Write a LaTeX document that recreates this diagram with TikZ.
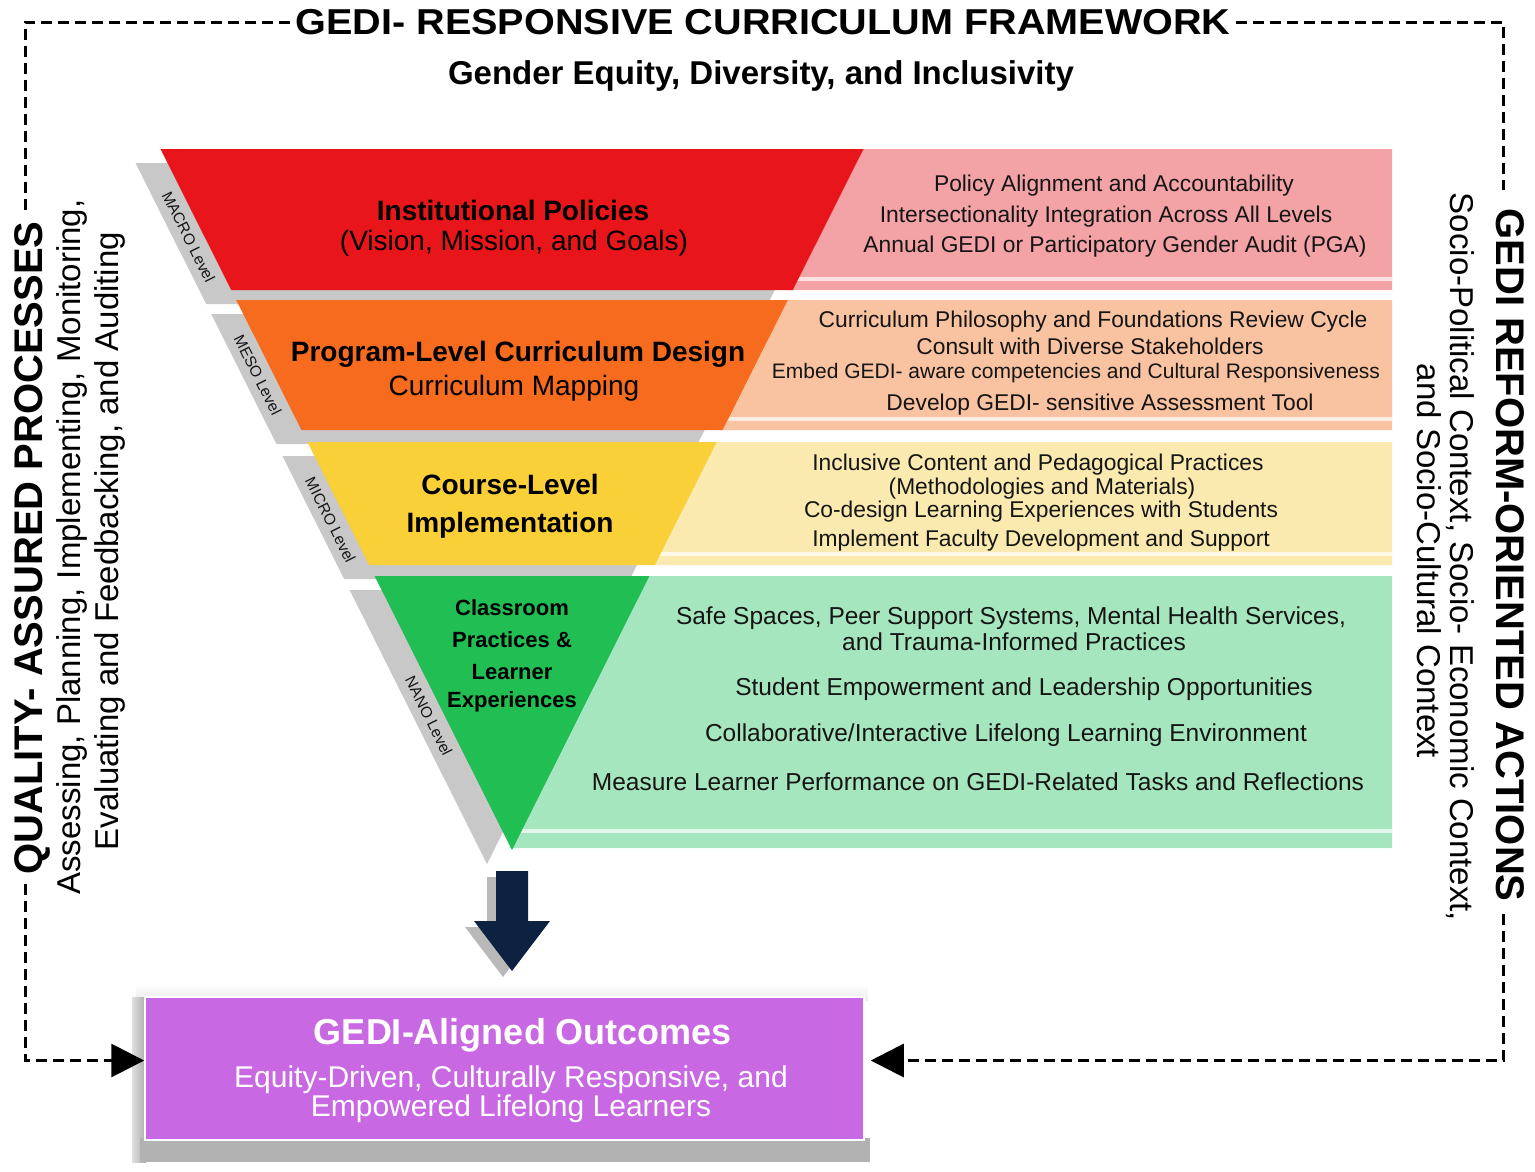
\documentclass[tikz,border=0pt]{standalone}
\usepackage{fontspec}
\setmainfont{Liberation Sans}
\usetikzlibrary{arrows.meta}
\newcommand{\fsz}[1]{\fontsize{#1}{#1}\selectfont}
\definecolor{cRed}{HTML}{E8151B}
\definecolor{cOrange}{HTML}{F76B1E}
\definecolor{cYellow}{HTML}{F9D038}
\definecolor{cGreen}{HTML}{21BF53}
\definecolor{cPink}{HTML}{F3A2A5}
\definecolor{cPeach}{HTML}{F9C2A0}
\definecolor{cLYellow}{HTML}{FBEAAF}
\definecolor{cLGreen}{HTML}{A6E6BE}
\definecolor{cPurple}{HTML}{C968E3}
\definecolor{cNavy}{HTML}{0C2240}
\definecolor{cShadow}{HTML}{C8C8C8}
\definecolor{cText}{HTML}{151515}
\begin{document}
\begin{tikzpicture}[x=1pt,y=-1pt,
  dashline/.style={line width=3pt, dash pattern=on 11pt off 6pt},
  bigtip/.style={-{Triangle[length=33pt,width=33pt]}},
  lvl/.style={font=\fsz{15.5}, text=cText, rotate=-63.4, inner sep=0pt},
  ftxt/.style={font=\fsz{28}, anchor=base, inner sep=0pt, text=black},
  fbold/.style={ftxt, font=\fsz{28}\bfseries},
  nbold/.style={ftxt, font=\fsz{22}\bfseries},
  rtxt/.style={font=\fsz{22.8}, anchor=base, inner sep=0pt, text=cText},
  gtxt/.style={font=\fsz{24.5}, anchor=base, inner sep=0pt, text=cText},
  stripe/.style={white, opacity=0.7},
  vleft/.style={rotate=90, anchor=base, inner sep=0pt, text=black},
  vright/.style={rotate=-90, anchor=base, inner sep=0pt, text=black},
  otxt/.style={anchor=base, inner sep=0pt, text=white}
]
\useasboundingbox (0,0) rectangle (1535,1171);

% ---------- title ----------
\node[inner sep=5pt] (t) at (763,22) {\scalebox{1.1}[1]{\fsz{36}\bfseries GEDI- RESPONSIVE CURRICULUM FRAMEWORK}};
\node[anchor=base, inner sep=0pt] (sub) at (761,84) {\fsz{33}\bfseries Gender Equity, Diversity, and Inclusivity};

% ---------- funnel shadows ----------
\fill[cShadow] (135.5,163) -- (838.5,163) -- (767.8,304) -- (206.2,304) -- cycle;
\fill[cShadow] (211.2,314) -- (762.8,314) -- (697.6,444) -- (276.4,444) -- cycle;
\fill[cShadow] (282.4,456) -- (691.6,456) -- (629.9,579) -- (344.1,579) -- cycle;
\fill[cShadow] (349.6,590) -- (624.4,590) -- (487,864) -- cycle;

% ---------- light boxes ----------
\fill[cPink] (859.5,149) -- (1392,149) -- (1392,290) -- (788.8,290) -- cycle;
\fill[cPeach] (783.8,300) -- (1392,300) -- (1392,430) -- (718.6,430) -- cycle;
\fill[cLYellow] (712.6,442) -- (1392,442) -- (1392,565) -- (650.9,565) -- cycle;
\fill[cLGreen] (645.4,576) -- (1392,576) -- (1392,848) -- (509,848) -- cycle;
\fill[stripe] (795,277) rectangle (1392,281);
\fill[stripe] (725,417) rectangle (1392,421);
\fill[stripe] (657,552) rectangle (1392,556);
\fill[stripe] (519,829) rectangle (1392,833);

% ---------- funnel bands ----------
\fill[cRed] (160.5,149) -- (863.5,149) -- (792.8,290) -- (231.2,290) -- cycle;
\fill[cOrange] (236.2,300) -- (787.8,300) -- (722.6,430) -- (301.4,430) -- cycle;
\fill[cYellow] (307.4,442) -- (716.6,442) -- (654.9,565) -- (369.1,565) -- cycle;
\fill[cGreen] (374.6,576) -- (649.4,576) -- (512,850) -- cycle;

% ---------- level labels ----------
\node[lvl] (macro) at (188.6,237) {MACRO Level};
\node[lvl] (meso) at (257.8,375) {MESO Level};
\node[lvl] (micro) at (330.5,520) {MICRO Level};
\node[lvl] (nano) at (428.8,716) {NANO Level};

% ---------- funnel texts ----------
\node[fbold] (f1a) at (513,220) {Institutional Policies};
\node[ftxt] (f1b) at (514,250) {(Vision, Mission, and Goals)};
\node[fbold] (f2a) at (518,361) {Program-Level Curriculum Design};
\node[ftxt] (f2b) at (514,395) {Curriculum Mapping};
\node[fbold] (f3a) at (510,494) {Course-Level};
\node[fbold] (f3b) at (510,532) {Implementation};
\node[nbold] (f4a) at (512,615) {Classroom};
\node[nbold] (f4b) at (512,647) {Practices \&};
\node[nbold] (f4c) at (512,679) {Learner};
\node[nbold] (f4d) at (512,707) {Experiences};

% ---------- right box texts ----------
\node[rtxt] (p1) at (1114,191) {Policy Alignment and Accountability};
\node[rtxt] (p2) at (1106,222) {Intersectionality Integration Across All Levels};
\node[rtxt] (p3) at (1115,252) {Annual GEDI or Participatory Gender Audit (PGA)};
\node[rtxt] (o1) at (1093,327) {Curriculum Philosophy and Foundations Review Cycle};
\node[rtxt] (o2) at (1090,354) {Consult with Diverse Stakeholders};
\node[rtxt, font=\fsz{21}] (o3) at (1076,378.5) {Embed GEDI- aware competencies and Cultural Responsiveness};
\node[rtxt] (o4) at (1100,410) {Develop GEDI- sensitive Assessment Tool};
\node[rtxt] (y1) at (1038,470) {Inclusive Content and Pedagogical Practices};
\node[rtxt] (y2) at (1042,494) {(Methodologies and Materials)};
\node[rtxt] (y3) at (1041,517) {Co-design Learning Experiences with Students};
\node[rtxt] (y4) at (1041,546) {Implement Faculty Development and Support};
\node[gtxt] (g1) at (1011,624.5) {Safe Spaces, Peer Support Systems, Mental Health Services,};
\node[gtxt] (g2) at (1014,650.5) {and Trauma-Informed Practices};
\node[gtxt] (g3) at (1024,695.5) {Student Empowerment and Leadership Opportunities};
\node[gtxt] (g4) at (1006,741.5) {Collaborative/Interactive Lifelong Learning Environment};
\node[gtxt] (g5) at (978,790.5) {Measure Learner Performance on GEDI-Related Tasks and Reflections};

% ---------- big down arrow ----------
\fill[gray!55] (487,877) -- (519,877) -- (519,927) -- (541,927) -- (503,977) -- (465,927) -- (487,927) -- cycle;
\fill[cNavy] (496,871) -- (528,871) -- (528,921) -- (550,921) -- (512,971) -- (474,921) -- (496,921) -- cycle;

% ---------- outcome box ----------
\shade[top color=white, bottom color=gray!15] (136,984) rectangle (868,1000);
\shade[left color=gray!25, right color=gray!65] (132,997) rectangle (146,1162);
\fill[gray!60] (140,1138) rectangle (870,1162);
\node[draw=white, line width=1.5pt, fill=cPurple, minimum width=719pt, minimum height=143pt, inner sep=0pt] (out) at (504.5,1068.5) {};
\node[otxt, font=\fsz{36}\bfseries] (out1) at (523,1044) {GEDI-Aligned Outcomes};
\node[otxt, font=\fsz{30}] (out2) at (511,1087) {Equity-Driven, Culturally Responsive, and};
\node[otxt, font=\fsz{30}] (out3) at (511,1116) {Empowered Lifelong Learners};

% ---------- side texts ----------
\node[vleft, font=\fsz{40}\bfseries] (qa) at (42,548) {QUALITY- ASSURED PROCESSES};
\node[vleft, font=\fsz{33}] (qa2) at (80,547) {Assessing, Planning, Implementing, Monitoring,};
\node[vleft, font=\fsz{33}] (qa3) at (118,541) {Evaluating and Feedbacking, and Auditing};
\node[vright, font=\fsz{40}\bfseries] (ra) at (1496,555) {GEDI REFORM-ORIENTED ACTIONS};
\node[vright, font=\fsz{33}] (ra2) at (1450,557) {Socio-Political Context, Socio- Economic Context,};
\node[vright, font=\fsz{33}] (ra3) at (1417,561) {and Socio-Cultural Context};

% ---------- dashed frame ----------
\coordinate (l1) at (25,213);
\coordinate (l2) at (25,884);
\coordinate (r1) at (1503,190);
\coordinate (r2) at (1503,914);
\draw[dashline] (t.west) -| (l1);
\draw[dashline] (t.east) -| (r1);
\draw[dashline, bigtip] (l2) |- ([yshift=8pt]out.west);
\draw[dashline, bigtip] (r2) |- ([yshift=8pt,xshift=6pt]out.east);
\end{tikzpicture}
\end{document}
